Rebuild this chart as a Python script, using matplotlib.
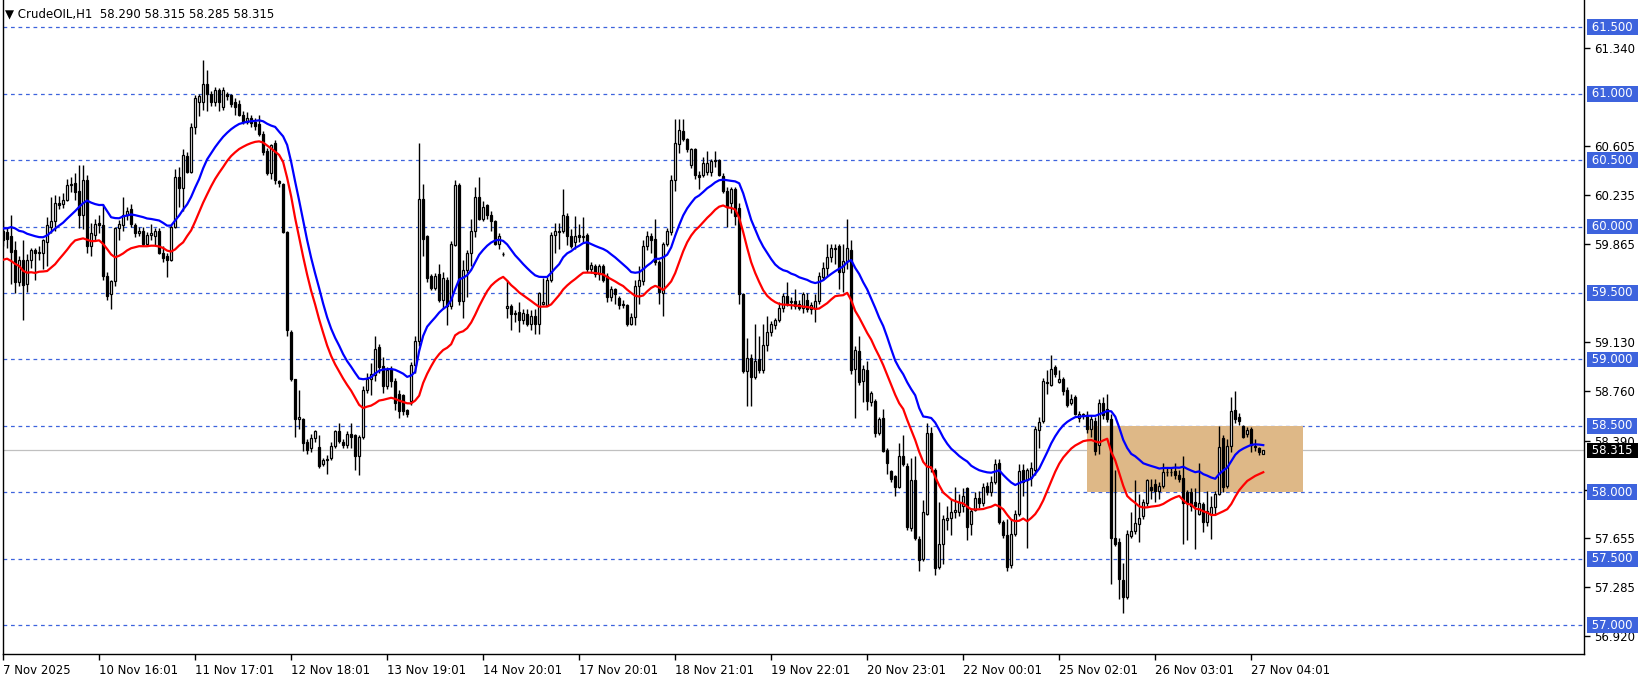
import numpy as np
import pandas as pd
import matplotlib
matplotlib.use('Agg')
import matplotlib.pyplot as plt
import matplotlib.transforms as mtransforms

# CrudeOIL H1 candles (open, high, low, close)
opens = [
    59.97, 59.96, 59.93, 59.82, 59.58, 59.75, 59.57, 59.75, 59.82, 59.80,
    59.80, 59.88, 60.00, 60.04, 60.18, 60.17, 60.20, 60.31, 60.33, 60.27,
    60.09, 60.35, 59.85, 59.94, 60.03, 60.01, 59.63, 59.49, 59.59, 59.99,
    60.01, 60.09, 60.13, 60.01, 59.95, 59.97, 59.87, 59.94, 59.93, 59.97,
    59.80, 59.78, 59.75, 60.00, 60.37, 60.29, 60.53, 60.41, 60.75, 60.94,
    60.94, 61.07, 61.00, 60.94, 61.03, 60.90, 61.00, 60.99, 60.94, 60.92,
    60.84, 60.79, 60.82, 60.79, 60.77, 60.70, 60.57, 60.40, 60.63, 60.34,
    60.32, 59.96, 59.21, 58.85, 58.55, 58.55, 58.38, 58.33, 58.41, 58.34,
    58.21, 58.24, 58.26, 58.35, 58.46, 58.38, 58.36, 58.44, 58.43, 58.27,
    58.42, 58.77, 58.85, 58.88, 59.09, 58.95, 58.80, 58.93, 58.84, 58.74,
    58.73, 58.62, 58.69, 58.96, 59.14, 60.21, 59.93, 59.63, 59.54, 59.64,
    59.45, 59.60, 59.40, 59.86, 60.31, 59.44, 59.67, 59.80, 59.97, 60.22,
    60.06, 60.16, 60.09, 60.04, 59.87, 59.79, 59.39, 59.40, 59.35, 59.36,
    59.30, 59.34, 59.27, 59.33, 59.27, 59.42, 59.41, 59.60, 59.94, 59.96,
    59.97, 60.08, 59.93, 59.88, 59.94, 59.92, 59.94, 59.68, 59.70, 59.64,
    59.70, 59.63, 59.47, 59.53, 59.46, 59.42, 59.41, 59.27, 59.32, 59.55,
    59.59, 59.85, 59.93, 59.91, 59.73, 59.50, 59.87, 59.96, 60.35, 60.62,
    60.72, 60.66, 60.46, 60.58, 60.39, 60.39, 60.41, 60.41, 60.49, 60.50,
    60.38, 60.27, 60.18, 60.28, 60.14, 59.49, 58.91, 59.01, 58.87, 59.00,
    58.92, 59.11, 59.21, 59.26, 59.30, 59.39, 59.48, 59.43, 59.44, 59.42,
    59.39, 59.45, 59.38, 59.39, 59.44, 59.62, 59.69, 59.77, 59.83, 59.85,
    59.66, 59.74, 59.82, 58.93, 59.06, 58.84, 58.92, 58.68, 58.69, 58.45,
    58.56, 58.32, 58.16, 58.12, 58.04, 58.27, 58.20, 57.73, 58.09, 57.65,
    57.50, 57.84, 58.45, 58.17, 57.44, 57.61, 57.79, 57.81, 57.85, 57.85,
    57.90, 58.03, 57.76, 57.87, 57.96, 57.92, 58.05, 58.00, 58.08, 58.22,
    57.78, 57.68, 57.45, 57.69, 57.84, 58.17, 58.09, 58.11, 58.17, 58.47,
    58.54, 58.83, 58.81, 58.94, 58.83, 58.85, 58.77, 58.67, 58.72, 58.56,
    58.58, 58.58, 58.48, 58.54, 58.36, 58.67, 58.63, 58.55, 57.66, 57.63,
    57.34, 57.21, 57.67, 57.71, 57.76, 57.82, 57.92, 58.04, 58.06, 58.01,
    58.05, 58.15, 58.15, 58.16, 58.13, 58.11, 58.00, 58.00, 57.93, 57.84,
    57.91, 57.78, 57.84, 57.89, 57.99, 58.41, 58.05, 58.35, 58.62, 58.57,
    58.50, 58.44, 58.48, 58.35, 58.33, 58.29,
]
highs = [
    60.05, 59.99, 60.09, 59.89, 59.78, 59.90, 59.79, 59.84, 59.84, 59.85,
    59.91, 60.07, 60.22, 60.24, 60.23, 60.25, 60.36, 60.37, 60.40, 60.46,
    60.46, 60.39, 60.03, 60.06, 60.09, 60.17, 59.66, 59.60, 60.00, 60.05,
    60.22, 60.15, 60.17, 60.03, 60.00, 60.00, 59.96, 60.02, 59.99, 59.99,
    59.85, 59.80, 60.01, 60.43, 60.45, 60.58, 60.56, 60.78, 60.99, 61.00,
    61.25, 61.18, 61.02, 61.05, 61.04, 61.05, 61.01, 61.00, 60.97, 60.95,
    60.87, 60.86, 60.84, 60.82, 60.84, 60.72, 60.59, 60.62, 60.65, 60.35,
    60.33, 59.97, 59.22, 58.85, 58.77, 58.56, 58.40, 58.44, 58.47, 58.43,
    58.26, 58.28, 58.38, 58.47, 58.52, 58.40, 58.46, 58.52, 58.44, 58.43,
    58.80, 58.90, 58.97, 59.18, 59.12, 59.02, 58.94, 58.95, 58.86, 58.77,
    58.74, 58.63, 58.98, 59.18, 60.63, 60.32, 59.94, 59.64, 59.65, 59.72,
    59.66, 59.62, 59.89, 60.35, 60.33, 59.75, 59.82, 60.06, 60.30, 60.37,
    60.19, 60.17, 60.12, 60.05, 59.95, 59.81, 59.60, 59.42, 59.37, 59.43,
    59.38, 59.38, 59.37, 59.38, 59.51, 59.61, 59.62, 59.96, 60.03, 60.03,
    60.28, 60.10, 59.98, 60.08, 60.02, 60.07, 59.95, 59.73, 59.72, 59.72,
    59.72, 59.65, 59.55, 59.54, 59.48, 59.45, 59.42, 59.35, 59.60, 59.70,
    59.90, 59.97, 59.95, 60.06, 59.75, 59.88, 59.99, 60.39, 60.81, 60.81,
    60.81, 60.67, 60.59, 60.59, 60.42, 60.52, 60.57, 60.51, 60.57, 60.51,
    60.40, 60.30, 60.30, 60.30, 60.18, 59.50, 59.16, 59.04, 59.27, 59.18,
    59.27, 59.33, 59.29, 59.31, 59.43, 59.50, 59.58, 59.47, 59.53, 59.45,
    59.51, 59.50, 59.43, 59.49, 59.66, 59.73, 59.87, 59.87, 59.87, 59.87,
    59.87, 60.06, 59.90, 59.10, 59.18, 58.96, 58.99, 58.76, 58.70, 58.57,
    58.63, 58.33, 58.17, 58.13, 58.37, 58.43, 58.22, 58.26, 58.27, 57.67,
    57.94, 58.52, 58.49, 58.18, 57.93, 57.83, 57.90, 57.95, 58.04, 57.99,
    58.03, 58.04, 57.88, 58.00, 58.01, 58.07, 58.08, 58.12, 58.25, 58.25,
    57.79, 57.80, 57.80, 57.87, 58.21, 58.21, 58.18, 58.23, 58.50, 58.57,
    58.86, 58.92, 59.03, 58.96, 58.92, 58.87, 58.79, 58.74, 58.73, 58.61,
    58.60, 58.61, 58.58, 58.57, 58.70, 58.72, 58.74, 58.59, 58.17, 57.66,
    57.47, 57.72, 57.85, 58.09, 57.99, 57.95, 58.10, 58.10, 58.10, 58.08,
    58.22, 58.19, 58.18, 58.22, 58.17, 58.27, 58.02, 58.03, 58.03, 58.22,
    57.93, 58.01, 57.97, 58.01, 58.50, 58.43, 58.40, 58.72, 58.76, 58.60,
    58.51, 58.49, 58.49, 58.40, 58.34, 58.315,
]
lows = [
    59.85, 59.84, 59.57, 59.50, 59.55, 59.30, 59.51, 59.69, 59.60, 59.75,
    59.68, 59.70, 59.95, 59.97, 60.13, 60.14, 60.19, 60.26, 60.20, 59.99,
    59.98, 59.80, 59.78, 59.90, 59.95, 59.60, 59.45, 59.38, 59.55, 59.90,
    59.97, 60.05, 60.00, 59.92, 59.93, 59.85, 59.85, 59.90, 59.85, 59.79,
    59.73, 59.62, 59.74, 59.99, 60.15, 60.12, 60.40, 60.40, 60.70, 60.83,
    60.88, 60.87, 60.91, 60.91, 60.87, 60.88, 60.95, 60.90, 60.84, 60.83,
    60.77, 60.77, 60.75, 60.73, 60.68, 60.54, 60.39, 60.36, 60.32, 60.30,
    59.95, 59.18, 58.84, 58.42, 58.48, 58.31, 58.29, 58.30, 58.38, 58.18,
    58.20, 58.14, 58.24, 58.33, 58.37, 58.33, 58.33, 58.33, 58.17, 58.13,
    58.40, 58.75, 58.73, 58.84, 58.90, 58.75, 58.78, 58.79, 58.62, 58.56,
    58.58, 58.57, 58.66, 58.90, 59.10, 59.78, 59.58, 59.52, 59.52, 59.43,
    59.38, 59.26, 59.38, 59.85, 59.41, 59.31, 59.47, 59.70, 59.92, 60.05,
    60.04, 60.06, 59.97, 59.86, 59.83, 59.78, 59.31, 59.22, 59.28, 59.21,
    59.27, 59.25, 59.22, 59.19, 59.19, 59.41, 59.40, 59.58, 59.80, 59.83,
    59.95, 59.86, 59.84, 59.83, 59.88, 59.88, 59.66, 59.65, 59.62, 59.60,
    59.58, 59.43, 59.44, 59.42, 59.38, 59.39, 59.25, 59.26, 59.26, 59.42,
    59.56, 59.82, 59.80, 59.71, 59.42, 59.33, 59.85, 59.94, 60.27, 60.55,
    60.64, 60.56, 60.44, 60.36, 60.28, 60.37, 60.39, 60.38, 60.45, 60.38,
    60.25, 60.00, 60.10, 60.01, 59.42, 58.90, 58.65, 58.65, 58.85, 58.90,
    58.90, 59.06, 59.18, 59.23, 59.28, 59.36, 59.40, 59.38, 59.38, 59.37,
    59.35, 59.36, 59.34, 59.28, 59.42, 59.60, 59.63, 59.73, 59.72, 59.53,
    59.51, 59.68, 58.89, 58.56, 58.81, 58.68, 58.62, 58.65, 58.42, 58.43,
    58.30, 58.14, 58.08, 57.97, 58.03, 58.20, 57.72, 57.71, 57.64, 57.41,
    57.48, 57.83, 58.15, 57.38, 57.42, 57.46, 57.72, 57.68, 57.81, 57.82,
    57.85, 57.64, 57.68, 57.86, 57.88, 57.90, 57.98, 57.97, 58.06, 57.76,
    57.66, 57.41, 57.43, 57.67, 57.82, 57.97, 57.58, 58.05, 58.13, 58.33,
    58.52, 58.74, 58.80, 58.87, 58.82, 58.73, 58.64, 58.66, 58.58, 58.53,
    58.55, 58.45, 58.42, 58.28, 58.29, 58.55, 58.53, 57.31, 57.60, 57.20,
    57.09, 57.20, 57.66, 57.69, 57.63, 57.80, 57.90, 57.95, 57.93, 57.95,
    58.03, 58.12, 58.12, 58.10, 58.08, 57.61, 57.64, 57.86, 57.57, 57.83,
    57.70, 57.75, 57.65, 57.83, 57.98, 58.00, 58.03, 58.30, 58.52, 58.51,
    58.41, 58.42, 58.30, 58.31, 58.28, 58.285,
]
closes = [
    59.90, 59.91, 59.81, 59.58, 59.75, 59.56, 59.75, 59.82, 59.80, 59.81,
    59.90, 60.01, 60.04, 60.18, 60.16, 60.20, 60.31, 60.32, 60.26, 60.09,
    60.35, 59.85, 59.95, 60.02, 60.01, 59.63, 59.48, 59.59, 59.99, 60.02,
    60.09, 60.12, 60.02, 59.95, 59.97, 59.87, 59.94, 59.95, 59.97, 59.80,
    59.76, 59.75, 60.00, 60.37, 60.29, 60.54, 60.41, 60.75, 60.97, 60.98,
    61.07, 61.00, 60.94, 61.03, 60.94, 61.03, 60.98, 60.92, 60.90, 60.84,
    60.79, 60.82, 60.78, 60.76, 60.70, 60.56, 60.40, 60.61, 60.35, 60.33,
    59.96, 59.22, 58.85, 58.55, 58.57, 58.37, 58.32, 58.41, 58.46, 58.20,
    58.24, 58.25, 58.35, 58.46, 58.39, 58.36, 58.44, 58.42, 58.27, 58.42,
    58.77, 58.85, 58.89, 59.08, 58.94, 58.80, 58.92, 58.84, 58.67, 58.61,
    58.61, 58.59, 58.96, 59.14, 60.21, 59.91, 59.61, 59.54, 59.63, 59.45,
    59.61, 59.40, 59.87, 60.31, 59.44, 59.67, 59.80, 59.97, 60.22, 60.06,
    60.15, 60.09, 60.04, 59.87, 59.93, 59.79, 59.40, 59.34, 59.34, 59.30,
    59.35, 59.27, 59.33, 59.27, 59.50, 59.43, 59.60, 59.94, 59.97, 59.97,
    60.09, 59.93, 59.85, 59.93, 59.92, 59.93, 59.68, 59.71, 59.64, 59.70,
    59.60, 59.47, 59.53, 59.49, 59.41, 59.41, 59.27, 59.32, 59.55, 59.60,
    59.85, 59.93, 59.90, 59.73, 59.51, 59.87, 59.97, 60.35, 60.63, 60.73,
    60.66, 60.58, 60.58, 60.39, 60.37, 60.48, 60.48, 60.49, 60.50, 60.39,
    60.27, 60.15, 60.28, 60.08, 59.49, 58.91, 59.01, 58.87, 58.99, 58.92,
    59.11, 59.21, 59.27, 59.30, 59.39, 59.48, 59.42, 59.44, 59.40, 59.39,
    59.49, 59.38, 59.41, 59.44, 59.63, 59.69, 59.77, 59.84, 59.84, 59.66,
    59.74, 59.84, 58.92, 59.07, 58.83, 58.93, 58.69, 58.75, 58.45, 58.55,
    58.31, 58.22, 58.10, 58.04, 58.27, 58.21, 57.74, 58.09, 57.66, 57.49,
    57.85, 58.45, 58.18, 57.43, 57.61, 57.80, 57.81, 57.85, 57.87, 57.93,
    57.97, 57.74, 57.86, 57.96, 57.92, 58.04, 58.00, 58.08, 58.21, 57.78,
    57.68, 57.44, 57.69, 57.84, 58.16, 58.08, 58.17, 58.18, 58.48, 58.53,
    58.84, 58.82, 58.93, 58.89, 58.85, 58.76, 58.66, 58.70, 58.59, 58.59,
    58.58, 58.48, 58.55, 58.31, 58.67, 58.58, 58.55, 57.66, 57.61, 57.35,
    57.21, 57.69, 57.71, 57.77, 57.81, 57.93, 58.09, 58.02, 58.01, 58.05,
    58.15, 58.15, 58.15, 58.13, 58.10, 57.92, 57.92, 57.90, 57.90, 57.92,
    57.78, 57.86, 57.89, 57.99, 58.34, 58.04, 58.35, 58.61, 58.55, 58.54,
    58.42, 58.47, 58.36, 58.34, 58.30, 58.315,
]

# moving-average lines (seeded with the values shown at the left edge)
ma_seed_hi = 59.98
ma_seed_lo = 59.74
ma_span = 21

date_labels = ['7 Nov 2025', '10 Nov 16:01', '11 Nov 17:01', '12 Nov 18:01',
               '13 Nov 19:01', '14 Nov 20:01', '17 Nov 20:01', '18 Nov 21:01',
               '19 Nov 22:01', '20 Nov 23:01', '22 Nov 00:01', '25 Nov 02:01',
               '26 Nov 03:01', '27 Nov 04:01']
bars_per_label = 24

price_ticks = [61.340, 60.605, 60.235, 59.865, 59.130, 58.760, 58.390,
               58.020, 57.655, 57.285, 56.920]
levels = [61.5, 61.0, 60.5, 60.0, 59.5, 59.0, 58.5, 58.0, 57.5, 57.0]
last_price = 58.315
zone_lo, zone_hi = 58.0, 58.5
zone_start, zone_end = 271, 325

title = '\u25BC CrudeOIL,H1  58.290 58.315 58.285 58.315'

W, H = 1641, 678
fig = plt.figure(figsize=(W / 100, H / 100), dpi=100)
ax = fig.add_axes([2.7 / W, 1 - 654 / H, (1584 - 2.7) / W, 654 / H])

o = np.array(opens)
hi = np.array(highs)
lo = np.array(lows)
c = np.array(closes)
x = np.arange(len(c))

level_col = '#3d63dd'

# horizontal levels
for lv in levels:
    ax.axhline(lv, color=level_col, lw=0.9, ls=(0, (3, 3)), zorder=1)
ax.axhline(last_price, color='#c0c0c0', lw=0.9, zorder=1)

# zone box
ax.fill_between([zone_start, zone_end], zone_lo, zone_hi, color='#deb887',
                lw=0, zorder=1.5)

# candles
ax.vlines(x, lo, hi, color='black', lw=1.0, zorder=3)
up = c >= o
body_h = np.maximum(np.abs(c - o), 0.006)
body_b = np.minimum(o, c)
ax.bar(x[up], body_h[up], bottom=body_b[up], width=0.62, color='white',
       edgecolor='black', lw=0.9, zorder=4)
ax.bar(x[~up], body_h[~up], bottom=body_b[~up], width=0.62, color='black',
       edgecolor='black', lw=0.9, zorder=4)

# moving averages of highs and lows
ma_hi = pd.Series([ma_seed_hi] + highs).ewm(span=ma_span, adjust=False).mean().values[1:]
ma_lo = pd.Series([ma_seed_lo] + lows).ewm(span=ma_span, adjust=False).mean().values[1:]
ax.plot(x, ma_hi, color='#0000ff', lw=1.6, zorder=5)
ax.plot(x, ma_lo, color='#ff0000', lw=1.6, zorder=5)

ax.set_xlim(-0.1, (1584 - 3.3) / 4)
ax.set_ylim(61.5 - (654 - 27.2) / 132.9, 61.5 + 27.2 / 132.9)

ax.spines['top'].set_visible(False)
for s in ['left', 'right', 'bottom']:
    ax.spines[s].set_linewidth(1.0)

ax.set_xticks(np.arange(len(date_labels)) * bars_per_label)
ax.set_xticklabels(date_labels, ha='left', fontsize=8.5)
ax.tick_params(axis='x', direction='out', length=4, width=1, pad=3)

ax.yaxis.tick_right()
ax.set_yticks(price_ticks)
ax.set_yticklabels(['%.3f' % v for v in price_ticks], fontsize=8.5)
ax.tick_params(axis='y', direction='out', length=4, width=1, pad=3)

# price-level tags on the scale
trans = mtransforms.blended_transform_factory(ax.transAxes, ax.transData)
for lv in levels:
    ax.text(1.0025, lv, ' %.3f ' % lv, transform=trans, fontsize=8.5,
            color='white', va='center', ha='left', clip_on=False, zorder=10,
            bbox=dict(boxstyle='square,pad=0.12', fc=level_col, ec='none'))
ax.text(1.0025, last_price, ' %.3f ' % last_price, transform=trans,
        fontsize=8.5, color='white', va='center', ha='left', clip_on=False,
        zorder=11, bbox=dict(boxstyle='square,pad=0.12', fc='black', ec='none'))

fig.text(5 / W, 1 - 14 / H, title, fontsize=8.5, va='center', ha='left')

fig.savefig('out.png', dpi=100)
